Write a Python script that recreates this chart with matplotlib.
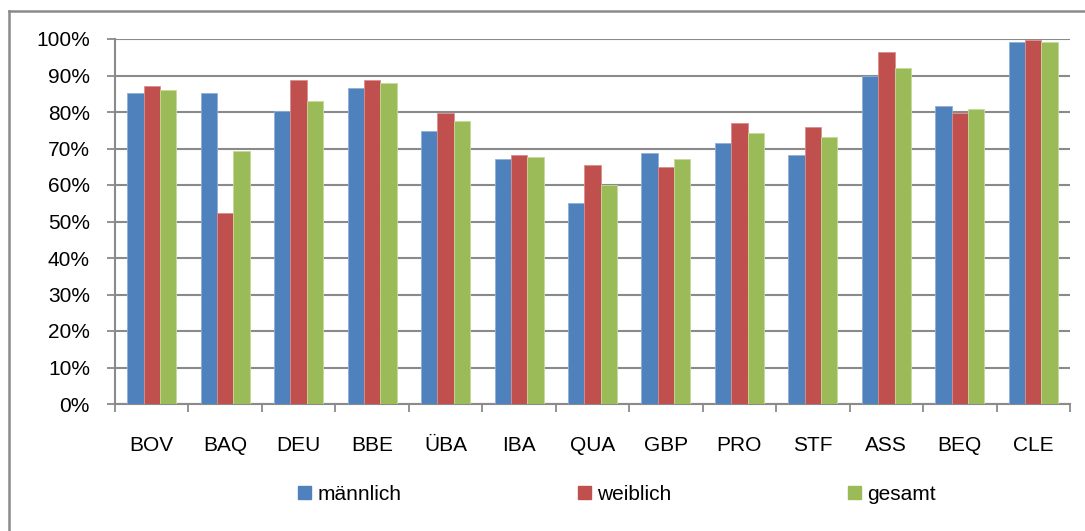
import matplotlib
matplotlib.use("Agg")
import matplotlib.pyplot as plt
import numpy as np
from matplotlib.ticker import FuncFormatter
from matplotlib.lines import Line2D

categories = ["BOV", "BAQ", "DEU", "BBE", "ÜBA", "IBA", "QUA", "GBP", "PRO", "STF", "ASS", "BEQ", "CLE"]
maennlich = [85.1, 85.1, 80.2, 86.7, 74.7, 67.1, 55.2, 68.8, 71.4, 68.1, 89.9, 81.7, 99.2]
weiblich = [87.2, 52.4, 88.9, 88.9, 79.6, 68.1, 65.5, 65.0, 76.9, 75.8, 96.5, 79.6, 99.8]
gesamt = [86.1, 69.2, 82.9, 87.9, 77.5, 67.7, 60.0, 67.1, 74.2, 73.1, 92.1, 80.7, 99.2]
series_names = ["männlich", "weiblich", "gesamt"]
colors = ["#4F81BD", "#C0504D", "#9BBB59"]
edges = ["#8FB0D8", "#DA8E8C", "#C4DA98"]

plt.rcParams["font.family"] = ["Liberation Sans", "DejaVu Sans"]
grey = "#8a8a8a"

fig = plt.figure(figsize=(10.85, 5.31), dpi=100)
ax = fig.add_axes([115 / 1085, 1 - 404 / 531, 955 / 1085, 365 / 531])

x = np.arange(len(categories))
w = 0.222
for i, (vals, name, c, e) in enumerate(zip([maennlich, weiblich, gesamt], series_names, colors, edges)):
    ax.bar(x + (i - 1) * w, vals, width=w, color=c, label=name,
           edgecolor=e, linewidth=0.6, zorder=3)

ax.set_xlim(-0.5, len(categories) - 0.5)
ax.set_ylim(0, 100)
ax.set_yticks(np.arange(0, 101, 10))
ax.yaxis.set_major_formatter(FuncFormatter(lambda v, p: f"{v:.0f}%"))
ax.grid(axis="y", color=grey, linewidth=1.5, zorder=0)

# x ticks between categories, labels centred
ax.set_xticks(np.arange(-0.5, len(categories), 1))
ax.set_xticklabels([])
ax.set_xticks(x, minor=True)
ax.set_xticklabels(categories, minor=True)
ax.tick_params(axis="x", which="major", length=6, width=1.3, color=grey, direction="out")
ax.tick_params(axis="x", which="minor", length=0, pad=23, labelsize=15)
ax.tick_params(axis="y", length=6, width=1.3, color=grey, direction="out", pad=12, labelsize=15)

for s in ["top", "right"]:
    ax.spines[s].set_visible(False)
for s in ["left", "bottom"]:
    ax.spines[s].set_color(grey)
    ax.spines[s].set_linewidth(1.5)

handles = [plt.Rectangle((0, 0), 1, 1, color=c) for c in colors]
ax.legend(handles, series_names, loc="center", bbox_to_anchor=(617 / 1085, 1 - 494 / 531),
          bbox_transform=fig.transFigure, ncol=3, frameon=False, fontsize=15,
          handlelength=0.6, handleheight=0.6, handletextpad=0.3, columnspacing=8.5)

# outer chart frame (cropped on right and bottom)
fig.add_artist(Line2D([8.5 / 1085, 1], [1 - 11 / 531, 1 - 11 / 531], color=grey, lw=1.8,
                      transform=fig.transFigure))
fig.add_artist(Line2D([8.5 / 1085, 8.5 / 1085], [0, 1 - 11 / 531], color=grey, lw=1.8,
                      transform=fig.transFigure))

fig.savefig("out.png", dpi=100)
